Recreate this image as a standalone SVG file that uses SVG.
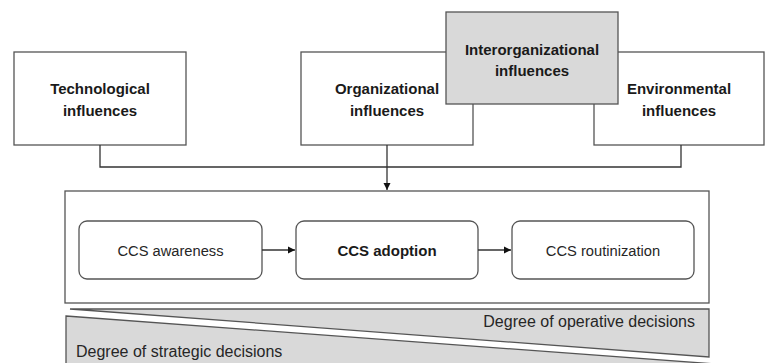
<svg xmlns="http://www.w3.org/2000/svg" width="765" height="363" viewBox="0 0 765 363">
<defs>
<style>
.box{fill:#fff;stroke:#555;stroke-width:1.3}
.gray{fill:#d9d9d9;stroke:#555;stroke-width:1.3}
.line{fill:none;stroke:#333;stroke-width:1.3}
.b{font-family:"Liberation Sans",Arial,sans-serif;font-size:15px;font-weight:bold;fill:#1a1a1a;text-anchor:middle}
.r{font-family:"Liberation Sans",Arial,sans-serif;font-size:14.7px;fill:#262626;text-anchor:middle}
.d{font-family:"Liberation Sans",Arial,sans-serif;font-size:16px;fill:#262626}
</style>
<marker id="ah" markerWidth="8" markerHeight="8" refX="7" refY="4" orient="auto" markerUnits="userSpaceOnUse">
<path d="M0,0.5 L7,4 L0,7.5 Z" fill="#111"/>
</marker>
</defs>
<g id="bands">
<polygon class="gray" points="66,316 770,368 66,368"/>
<polygon class="gray" points="70,309 709,309 709,357"/>
<text class="d" x="695" y="327" text-anchor="end">Degree of operative decisions</text>
<text class="d" x="76" y="357">Degree of strategic decisions</text>
</g>
<g id="technological">
<rect class="box" x="14" y="52" width="172" height="93"/>
<text class="b" x="100" y="94">Technological</text>
<text class="b" x="100" y="116">influences</text>
</g>
<g id="organizational">
<rect class="box" x="301" y="52" width="172" height="93"/>
<text class="b" x="387" y="94">Organizational</text>
<text class="b" x="387" y="116">influences</text>
</g>
<g id="environmental">
<rect class="box" x="594" y="52" width="170" height="93"/>
<text class="b" x="679" y="94">Environmental</text>
<text class="b" x="679" y="116">influences</text>
</g>
<g id="interorganizational">
<rect class="gray" x="446" y="12" width="172" height="92"/>
<text class="b" x="532" y="55">Interorganizational</text>
<text class="b" x="532" y="76">influences</text>
</g>
<g id="process">
<rect class="box" x="65" y="191" width="644" height="112"/>
</g>
<g id="awareness">
<rect class="box" x="79" y="221" width="183" height="58" rx="8"/>
<text class="r" x="170.5" y="255.5">CCS awareness</text>
</g>
<g id="adoption">
<rect class="box" x="296" y="221" width="182" height="58" rx="8"/>
<text class="b" x="387" y="255.5">CCS adoption</text>
</g>
<g id="routinization">
<rect class="box" x="512" y="221" width="182" height="58" rx="8"/>
<text class="r" x="603" y="255.5">CCS routinization</text>
</g>
<g id="connectors">
<polyline class="line" points="100,145 100,167 681,167 681,145"/>
<line class="line" x1="387" y1="145" x2="387" y2="190" marker-end="url(#ah)"/>
<line class="line" x1="262" y1="250" x2="295" y2="250" marker-end="url(#ah)"/>
<line class="line" x1="478" y1="250" x2="511" y2="250" marker-end="url(#ah)"/>
</g>
</svg>
